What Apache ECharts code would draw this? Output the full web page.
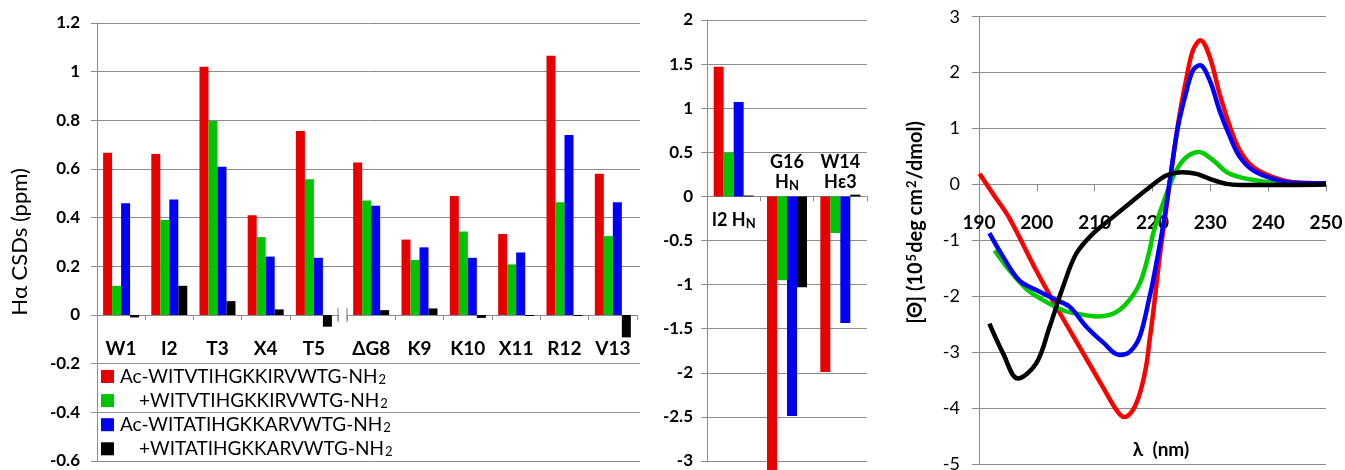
<!DOCTYPE html>
<html><head><meta charset="utf-8">
<script src="https://cdn.jsdelivr.net/npm/echarts@6/dist/echarts.min.js"></script>
<style>html,body{margin:0;padding:0;background:#fff}#c{width:1345px;height:470px}</style>
</head><body><div id="c"></div>
<script>
// ---- Panel 1: H-alpha CSDs ----
const haCats = ['W1','I2','T3','X4','T5','\u0394G8','K9','K10','X11','R12','V13'];
const haBreakAfter = 5;
const haRed   = [0.667,0.662,1.02,0.41,0.756,0.627,0.31,0.489,0.333,1.065,0.58];
const haGreen = [0.12,0.39,0.797,0.32,0.558,0.471,0.226,0.343,0.208,0.463,0.324];
const haBlue  = [0.459,0.475,0.609,0.24,0.235,0.449,0.278,0.235,0.257,0.74,0.463];
const haBlack = [-0.01,0.12,0.057,0.023,-0.048,0.02,0.027,-0.012,-0.004,-0.004,-0.092];
// ---- Panel 2: NH CSDs ----
const nhCats  = ['I2 HN','G16 HN','W14 H\u03b53'];
const nhRed   = [1.47,-3.2,-1.99];
const nhGreen = [0.497,-0.95,-0.415];
const nhBlue  = [1.07,-2.49,-1.435];
const nhBlack = [0.01,-1.03,0.02];
// ---- Panel 3: CD spectra [lambda, theta] ----
const cdRed = [[190.1,0.19],[192.7,-0.21],[195.3,-0.61],[199.9,-1.54],[203.7,-2.25],[207.4,-2.91],[211.4,-3.62],[213.8,-4.04],[215.1,-4.16],[216.5,-4.05],[217.8,-3.74],[218.9,-3.25],[219.5,-2.78],[220.1,-2.31],[221.2,-1.33],[222.4,-0.41],[223.5,0.43],[224.7,1.26],[225.9,1.92],[227.0,2.4],[228.3,2.58],[229.9,2.28],[231.6,1.62],[233.4,1.03],[235.1,0.61],[237.4,0.31],[240.8,0.13],[244.3,0.04],[250,0.02]];
const cdGreen = [[192.7,-1.18],[195.3,-1.54],[198.2,-1.87],[201.1,-2.07],[204.5,-2.25],[207.4,-2.32],[210.3,-2.36],[213.2,-2.31],[215.5,-2.13],[217.8,-1.77],[219.5,-1.18],[220.1,-0.88],[222.4,-0.17],[224.1,0.25],[225.9,0.49],[228.0,0.58],[230.5,0.43],[232.8,0.22],[235.1,0.13],[238.6,0.06],[242,0.02],[250,0.01]];
const cdBlue = [[191.8,-0.87],[194.2,-1.30],[197.0,-1.72],[199.9,-1.89],[203.4,-2.07],[205.7,-2.19],[208.6,-2.55],[211.4,-2.82],[214.3,-3.05],[216.1,-2.99],[217.8,-2.72],[219.5,-2.01],[220.1,-1.72],[221.8,-0.76],[223.0,0.07],[224.4,1.03],[225.9,1.68],[227.0,2.04],[228.2,2.13],[229.9,1.86],[231.6,1.32],[233.4,0.85],[235.1,0.49],[237.4,0.25],[240.8,0.1],[244.3,0.03],[250,0.02]];
const cdBlack = [[191.8,-2.49],[194.2,-3.03],[196.7,-3.47],[199.9,-3.2],[202.2,-2.55],[204.5,-1.84],[206.8,-1.24],[209.7,-0.88],[213.2,-0.58],[216.6,-0.29],[219.5,-0.05],[222.4,0.16],[225.3,0.22],[227.6,0.19],[229.9,0.1],[232.8,0.01],[235.1,-0.01],[240.8,-0.01],[250,0]];

const seriesNames = ['Ac-WITVTIHGKKIRVWTG-NH2','+WITVTIHGKKIRVWTG-NH2','Ac-WITATIHGKKARVWTG-NH2','+WITATIHGKKARVWTG-NH2'];
const barColors = ['#e60000','#00c400','#0000f5','#000000'];
const lineColors = ['#ff0000','#00cc00','#0000ff','#000000'];

const FONT = 'Lato, "Liberation Sans", sans-serif';
const GRID = '#8c8c8c';

const L1 = {left:97, top:23, width:543, height:438};
const G1a = {left:97, top:23, width:241, height:438};
const G1b = {left:347, top:23, width:290, height:438};
const L2 = {left:707, top:20, width:160, height:441};
const L3 = {left:979, top:16.7, width:347, height:447.3};
const Y1 = [-0.6, 1.2], Y2 = [-3, 2], Y3 = [-5, 3];
const Y1step = 0.2;

// distance (px) from a grid's bottom edge up to its zero line
function zeroLift(g, ext) { return g.height * (0 - ext[0]) / (ext[1] - ext[0]); }
const lift1 = zeroLift(L1, Y1), lift2 = zeroLift(L2, Y2), lift3 = zeroLift(L3, Y3);

// split-line colours of panel 1: the zero line is drawn by the broken category axes instead
const nSplit1 = Math.round((Y1[1] - Y1[0]) / Y1step) + 1;
const zeroIdx1 = Math.round((0 - Y1[0]) / Y1step);
const split1Colors = [];
for (let k = 0; k < nSplit1; k++) split1Colors.push(k === zeroIdx1 ? 'rgba(0,0,0,0)' : GRID);

const chart = echarts.init(document.getElementById('c'), null, {renderer:'canvas'});

function catAxis(grid, data, extra) {
  return Object.assign({
    gridIndex: grid, type:'category', data: data,
    axisLine:{onZero:true, onZeroAxisIndex:grid, lineStyle:{color:GRID, width:1}},
    axisTick:{show:true, length:5, lineStyle:{color:GRID}},
    axisLabel:{interval:0, margin:24 - lift1, color:'#000', fontFamily:FONT, fontWeight:'bold', fontSize:19},
    splitLine:{show:false}
  }, extra || {});
}
function hiddenY(grid, ext) {
  return {gridIndex:grid, type:'value', min:ext[0], max:ext[1],
    axisLine:{show:false, onZero:false}, axisTick:{show:false}, axisLabel:{show:false}, splitLine:{show:false}};
}
const nhLabel = function(v){
  const parts = v.split(' ');
  const res = parts[0], atom = parts[1];
  const atomTxt = atom === 'HN' ? '{b|H}{s|N}' : '{b|' + atom + '}';
  if (v.indexOf('I2') === 0) return '{sp| }\n{b|' + res + ' }' + atomTxt;
  return '{b|' + res + '}\n' + atomTxt;
};

const series = [];
const vals = [haRed, haGreen, haBlue, haBlack];
[0,1,2,3].forEach(function(i){
  series.push({type:'bar', name:seriesNames[i], xAxisIndex:1, yAxisIndex:1, data: vals[i].slice(0,haBreakAfter),
    barWidth:9, barGap:'0%', itemStyle:{color:barColors[i]}, animation:false});
});
[0,1,2,3].forEach(function(i){
  series.push({type:'bar', name:seriesNames[i], xAxisIndex:2, yAxisIndex:2, data: vals[i].slice(haBreakAfter),
    barWidth:9, barGap:'0%', itemStyle:{color:barColors[i]}, animation:false});
});
const nvals = [nhRed, nhGreen, nhBlue, nhBlack];
[0,1,2,3].forEach(function(i){
  series.push({type:'bar', name:seriesNames[i], xAxisIndex:3, yAxisIndex:3, data: nvals[i],
    barWidth:10, barGap:'0%', clip:false, itemStyle:{color:barColors[i]}, animation:false});
});
const cvals = [cdRed, cdGreen, cdBlue, cdBlack];
[0,1,2,3].forEach(function(i){
  series.push({type:'line', name:'CD ' + seriesNames[i], xAxisIndex:4, yAxisIndex:4, data: cvals[i],
    smooth:0.35, showSymbol:false, symbol:'none', lineStyle:{color:lineColors[i], width:4.5}, z:3+i, animation:false});
});

const option = {
  animation:false,
  textStyle:{fontFamily:FONT},
  grid:[L1,G1a,G1b,L2,L3].map(function(g){return Object.assign({containLabel:false, outerBoundsMode:'none'}, g);}),
  legend:{
    data: seriesNames.map(function(n){return {name:n, icon:'rect'};}),
    orient:'vertical', left:101, top:367, padding:0, itemGap:4.6, itemWidth:13, itemHeight:13,
    selectedMode:false,
    formatter:function(name){
      const base = name.replace(/2$/,'');
      return (name[0]==='+' ? '{ind|}' : '') + '{t|' + base + '}{s|2}';
    },
    textStyle:{color:'#000', fontFamily:FONT, fontSize:19, padding:[0,0,0,1],
      rich:{
        t:{fontFamily:FONT, fontSize:19, color:'#000', lineHeight:20},
        s:{fontFamily:FONT, fontSize:13, color:'#000', lineHeight:20, verticalAlign:'bottom', padding:[6,0,0,1]},
        ind:{width:19, lineHeight:20}
      }}
  },
  xAxis:[
    {gridIndex:0, type:'value', min:0, max:1, show:false},
    catAxis(1, haCats.slice(0,haBreakAfter)),
    catAxis(2, haCats.slice(haBreakAfter)),
    catAxis(3, nhCats, {
      axisLabel:{interval:0, margin:-44 - lift2, color:'#000', formatter:nhLabel,
      rich:{
        b:{fontFamily:FONT, fontWeight:'bold', fontSize:18, color:'#000', lineHeight:20},
        s:{fontFamily:FONT, fontWeight:'bold', fontSize:13, color:'#000', lineHeight:20, verticalAlign:'bottom', padding:[6,0,0,0]},
        sp:{fontSize:10, lineHeight:58}
      }}}),
    {gridIndex:4, type:'value', min:190, max:250, interval:10,
      axisLine:{onZero:true, onZeroAxisIndex:4, lineStyle:{color:GRID}},
      axisTick:{show:true, length:7, lineStyle:{color:GRID}},
      splitLine:{show:false},
      axisLabel:{margin:29 - lift3, color:'#000', fontFamily:FONT, fontWeight:'bold', fontSize:19},
      name:'\u03bb  (nm)', nameLocation:'middle', nameGap:-24,
      nameTextStyle:{color:'#000', fontFamily:FONT, fontWeight:'bold', fontSize:19, padding:[0,0,0,17]}}
  ],
  yAxis:[
    {gridIndex:0, type:'value', min:Y1[0], max:Y1[1], interval:Y1step,
      axisLine:{show:true, onZero:false, lineStyle:{color:GRID}},
      axisTick:{show:true, length:6, lineStyle:{color:GRID}},
      splitLine:{show:true, lineStyle:{color:split1Colors, width:1}},
      axisLabel:{margin:17, color:'#000', fontFamily:FONT, fontWeight:'bold', fontSize:17},
      name:'H\u03b1 CSDs (ppm)', nameLocation:'middle', nameGap:66,
      nameTextStyle:{color:'#000', fontFamily:FONT, fontSize:22}},
    hiddenY(1, Y1),
    hiddenY(2, Y1),
    {gridIndex:3, type:'value', min:Y2[0], max:Y2[1], interval:0.5,
      axisLine:{show:true, onZero:false, lineStyle:{color:GRID}},
      axisTick:{show:true, length:6, lineStyle:{color:GRID}},
      splitLine:{show:true, lineStyle:{color:GRID, width:1}},
      axisLabel:{margin:14, color:'#000', fontFamily:FONT, fontWeight:'bold', fontSize:17}},
    {gridIndex:4, type:'value', min:Y3[0], max:Y3[1], interval:1,
      axisLine:{show:true, onZero:false, lineStyle:{color:GRID}},
      axisTick:{show:true, length:7, lineStyle:{color:GRID}},
      splitLine:{show:true, lineStyle:{color:GRID, width:1}},
      axisLabel:{margin:19, color:'#000', fontFamily:FONT, fontSize:18},
      name:'{t|[\u0398] (10}{sup|5}{t|deg cm}{sup|2}{t|/dmol)}', nameLocation:'middle', nameRotate:90, nameGap:52,
      nameTextStyle:{color:'#000', padding:[0,0,0,36],
        rich:{
          t:{fontFamily:FONT, fontWeight:'bold', fontSize:20, color:'#000', lineHeight:22},
          sup:{fontFamily:FONT, fontWeight:'bold', fontSize:13, color:'#000', lineHeight:22, verticalAlign:'top', padding:[0,1,8,1]}
        }}}
  ],
  series: series
};
chart.setOption(option);

// axis-break marks between the two halves of panel 1
const zeroY = chart.convertToPixel({yAxisIndex:1}, 0);
const bx1 = G1a.left + G1a.width, bx2 = G1b.left;
chart.setOption({graphic:[
  {type:'line', shape:{x1:bx1, y1:zeroY-7, x2:bx1, y2:zeroY+7}, style:{stroke:GRID, lineWidth:1.2}},
  {type:'line', shape:{x1:bx2, y1:zeroY-7, x2:bx2, y2:zeroY+7}, style:{stroke:GRID, lineWidth:1.2}}
]});
</script></body></html>
